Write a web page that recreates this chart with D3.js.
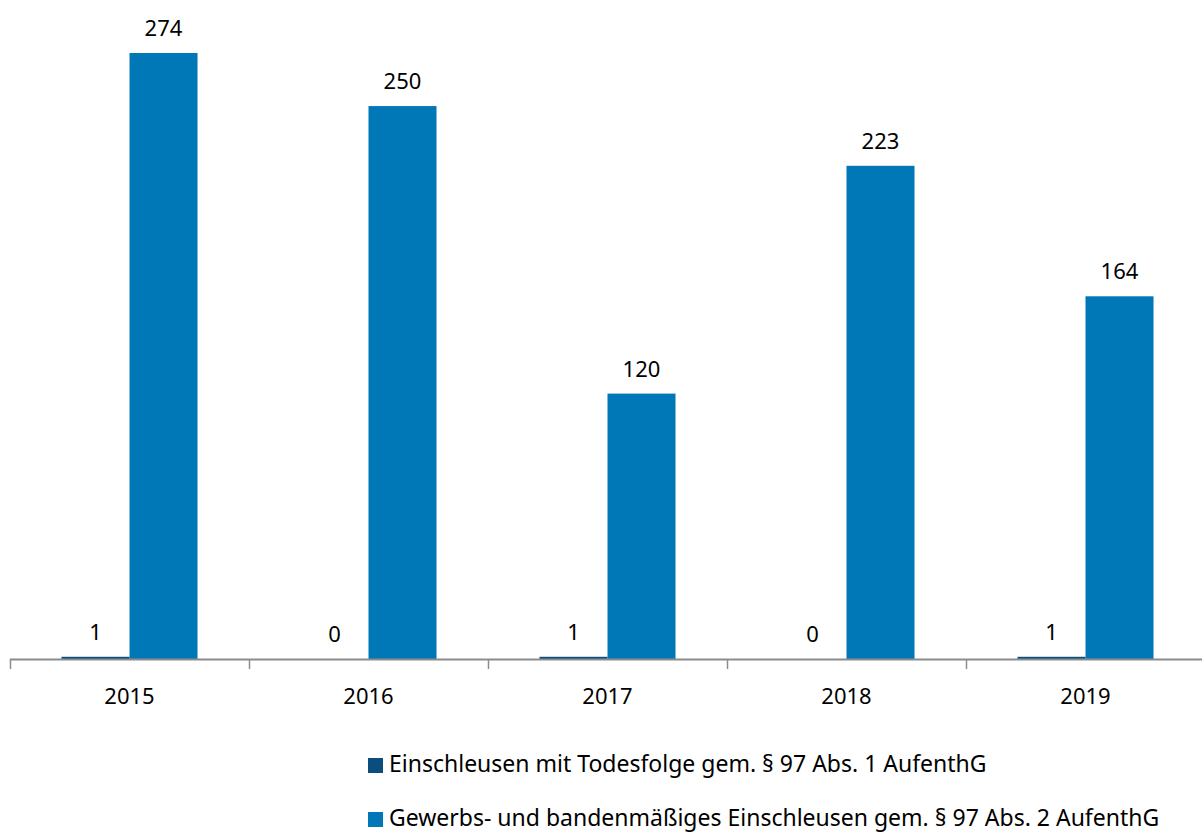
<!DOCTYPE html>
<html>
<head>
<meta charset="utf-8">
<script src="https://cdn.jsdelivr.net/npm/d3@7"></script>
<style>
  body { margin: 0; background: #fff; }
  svg { display: block; font-family: "Noto Sans", "Open Sans", sans-serif; }
</style>
</head>
<body>
<svg id="chart" width="1202" height="835"></svg>
<script>
// data
var years = ["2015", "2016", "2017", "2018", "2019"];
var seriesNames = [
  "Einschleusen mit Todesfolge gem. § 97 Abs. 1 AufenthG",
  "Gewerbs- und bandenmäßiges Einschleusen gem. § 97 Abs. 2 AufenthG"
];
var todesfolge = [1, 0, 1, 0, 1];
var gewerbs = [274, 250, 120, 223, 164];

var colors = ["#0b4d7d", "#0077b6"];

var svg = d3.select("#chart");

var axisY = 659;

var x0 = d3.scaleBand()
    .domain(years)
    .range([10, 1205])
    .paddingInner(0)
    .paddingOuter(0);

var x1 = d3.scaleBand()
    .domain([0, 1])
    .range([0, x0.bandwidth()])
    .paddingOuter(0.757)
    .paddingInner(0);

var y = d3.scaleLinear()
    .domain([0, 274])
    .range([axisY, 53]);

var rows = years.map(function(yr, i) {
  return { year: yr, values: [todesfolge[i], gewerbs[i]] };
});

var groups = svg.selectAll("g.year")
    .data(rows)
  .enter().append("g")
    .attr("class", "year")
    .attr("transform", function(d) { return "translate(" + x0(d.year) + ",0)"; });

groups.selectAll("rect")
    .data(function(d) { return d.values.map(function(v, k) { return { k: k, v: v }; }); })
  .enter().append("rect")
    .attr("x", function(d) { return x1(d.k); })
    .attr("width", x1.bandwidth())
    .attr("y", function(d) { return y(d.v); })
    .attr("height", function(d) { return axisY - y(d.v); })
    .attr("fill", function(d) { return colors[d.k]; });

groups.selectAll("text.val")
    .data(function(d) { return d.values.map(function(v, k) { return { k: k, v: v }; }); })
  .enter().append("text")
    .attr("class", "val")
    .attr("x", function(d) { return x1(d.k) + x1.bandwidth() / 2; })
    .attr("y", function(d) { return y(d.v) - 17; })
    .attr("text-anchor", "middle")
    .attr("font-size", 22)
    .attr("fill", "#000")
    .text(function(d) { return d.v; });

// x axis: line + ticks at group boundaries
svg.append("line")
    .attr("x1", 10).attr("x2", 1202)
    .attr("y1", axisY + 0.5).attr("y2", axisY + 0.5)
    .attr("stroke", "#8c8c8c")
    .attr("stroke-width", 2);

svg.selectAll("line.tick")
    .data(years)
  .enter().append("line")
    .attr("class", "tick")
    .attr("x1", function(d) { return x0(d) + 0.5; })
    .attr("x2", function(d) { return x0(d) + 0.5; })
    .attr("y1", axisY)
    .attr("y2", axisY + 10)
    .attr("stroke", "#8c8c8c")
    .attr("stroke-width", 1.5);

svg.selectAll("text.year")
    .data(years)
  .enter().append("text")
    .attr("class", "year")
    .attr("x", function(d) { return x0(d) + x0.bandwidth() / 2; })
    .attr("y", 704)
    .attr("text-anchor", "middle")
    .attr("font-size", 22)
    .attr("fill", "#000")
    .text(function(d) { return d; });

// legend
var legend = svg.selectAll("g.legend")
    .data(seriesNames)
  .enter().append("g")
    .attr("class", "legend")
    .attr("transform", function(d, i) { return "translate(368," + (758 + i * 54) + ")"; });

legend.append("rect")
    .attr("width", 15).attr("height", 15)
    .attr("fill", function(d, i) { return colors[i]; });

legend.append("text")
    .attr("x", 21)
    .attr("y", 14)
    .attr("font-size", 23)
    .attr("fill", "#000")
    .text(function(d) { return d; });
</script>
</body>
</html>
